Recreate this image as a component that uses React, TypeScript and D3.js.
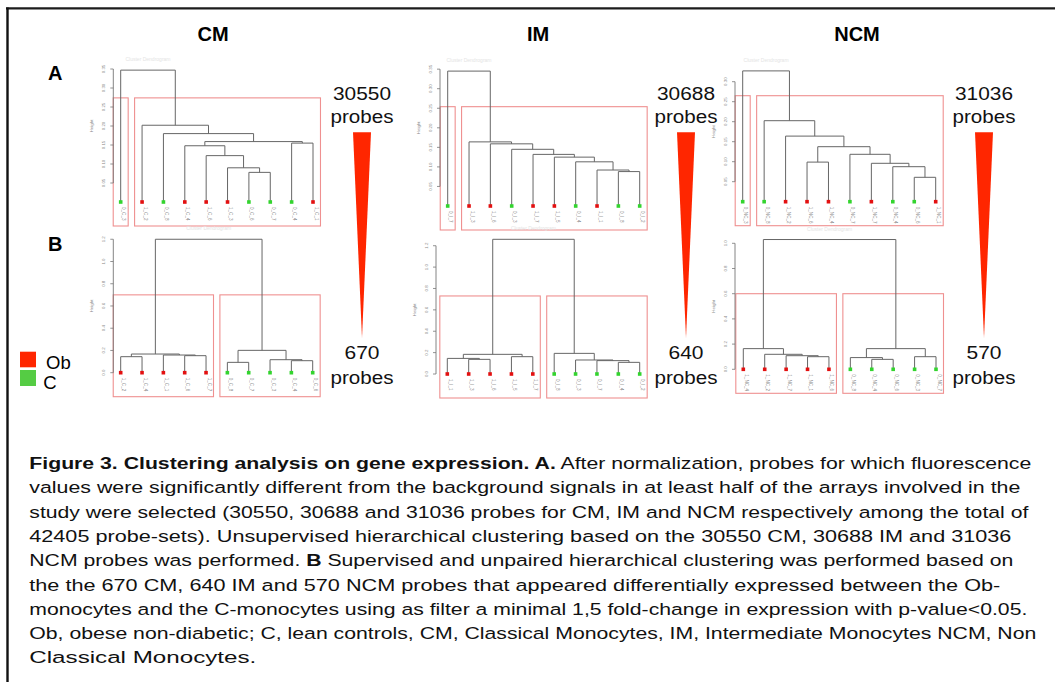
import React from "react";
import * as d3 from "d3";

// group per leaf, in display order: 1 = Ob (red), 0 = C (green)
const CM_A_GROUPS = [0, 1, 0, 1, 1, 1, 0, 0, 0, 1];
const CM_A_LABELS = ["0_C_3", "1_C_2", "0_C_8", "1_C_4", "1_C_6", "1_C_3", "0_C_6", "0_C_7", "0_C_4", "1_C_1"];
// hclust-style merge rows: negative = leaf (1-based display position), positive = earlier row
const CM_A_MERGE = [[-7, -8], [-6, 1], [-5, 2], [-4, 3], [-9, -10], [4, 5], [-3, 6], [-2, 7], [-1, 8]];
const CM_A_HEIGHT = [0.078, 0.09, 0.122, 0.148, 0.155, 0.159, 0.18, 0.202, 0.347];

const IM_A_GROUPS = [0, 1, 1, 0, 1, 1, 0, 1, 0, 0];
const IM_A_LABELS = ["0_I_7", "1_I_3", "1_I_6", "0_I_3", "1_I_7", "1_I_5", "0_I_4", "1_I_1", "0_I_8", "0_I_2"];
const IM_A_MERGE = [[-9, -10], [-8, 1], [-7, 2], [-6, 3], [-5, 4], [-4, 5], [-3, 6], [-2, 7], [-1, 8]];
const IM_A_HEIGHT = [0.088, 0.092, 0.113, 0.125, 0.132, 0.145, 0.159, 0.164, 0.345];

const NCM_A_GROUPS = [0, 0, 1, 1, 1, 0, 1, 0, 0, 1];
const NCM_A_LABELS = ["0_NC_3", "0_NC_8", "1_NC_2", "1_NC_6", "1_NC_4", "0_NC_7", "1_NC_7", "0_NC_4", "0_NC_6", "1_NC_1"];
const NCM_A_MERGE = [[-9, -10], [-8, 1], [-7, 2], [-6, 3], [-4, -5], [5, 4], [-3, 6], [-2, 7], [-1, 8]];
const NCM_A_HEIGHT = [0.061, 0.0875, 0.096, 0.1185, 0.099, 0.1375, 0.164, 0.2025, 0.327];

const CM_B_GROUPS = [1, 1, 1, 1, 1, 0, 0, 0, 0, 0];
const CM_B_LABELS = ["1_C_2", "1_C_4", "1_C_1", "1_C_6", "1_C_7", "0_C_8", "0_C_7", "0_C_3", "0_C_4", "0_C_6"];
const CM_B_MERGE = [[-6, -7], [-9, -10], [-8, 2], [-1, -2], [-4, -5], [-3, 5], [4, 6], [1, 3], [7, 8]];
const CM_B_HEIGHT = [0.093, 0.108, 0.117, 0.144, 0.153, 0.159, 0.168, 0.201, 1.2];

const IM_B_GROUPS = [1, 1, 1, 1, 1, 0, 0, 0, 0, 0];
const IM_B_LABELS = ["1_I_1", "1_I_3", "1_I_6", "1_I_5", "1_I_7", "0_I_8", "0_I_3", "0_I_7", "0_I_4", "0_I_2"];
const IM_B_MERGE = [[-9, -10], [-8, 1], [-7, 2], [-2, -3], [-1, 4], [-4, -5], [5, 6], [-6, 3], [7, 8]];
const IM_B_HEIGHT = [0.109, 0.125, 0.131, 0.137, 0.146, 0.162, 0.184, 0.193, 1.26];

const NCM_B_GROUPS = [1, 1, 1, 1, 1, 0, 0, 0, 0, 0];
const NCM_B_LABELS = ["1_NC_4", "1_NC_2", "1_NC_7", "1_NC_1", "1_NC_6", "0_NC_8", "0_NC_4", "0_NC_6", "0_NC_3", "0_NC_7"];
const NCM_B_MERGE = [[-7, -8], [-6, 1], [-4, -5], [-9, -10], [-3, 3], [-2, 5], [-1, 6], [2, 4], [7, 8]];
const NCM_B_HEIGHT = [0.079, 0.093, 0.1, 0.1, 0.108, 0.119, 0.164, 0.164, 1.03];

const TICKS_A = [0.05, 0.1, 0.15, 0.2, 0.25, 0.3, 0.35];
const TICKS_A_NCM = [0.05, 0.1, 0.15, 0.2, 0.25, 0.3];
const TICKS_B = [0, 0.2, 0.4, 0.6, 0.8, 1.0, 1.2];
const TICKS_B_NCM = [0, 0.2, 0.4, 0.6, 0.8, 1.0];

// rect.hclust boxes: leaf ranges and top height
const BOXES_A = [[0, 0], [1, 9]];
const BOXES_B = [[0, 4], [5, 9]];
const BOX_TOP = [0.274, 0.254, 0.265, 0.7, 0.73, 0.6];

const TITLES = ["CM", "IM", "NCM"];
const PROBES_ALL = ["30550", "30688", "31036"];
const PROBES_DE = ["670", "640", "570"];

const CAPTION: [string, boolean][][] = [
  [["Figure 3. Clustering analysis on gene expression. A.", true], [" After normalization, probes for which fluorescence", false]],
  [["values were significantly different from the background signals in at least half of the arrays involved in the", false]],
  [["study were selected (30550, 30688 and 31036 probes for CM, IM and NCM respectively among the total of", false]],
  [["42405 probe-sets). Unsupervised hierarchical clustering based on the 30550 CM, 30688 IM and 31036", false]],
  [["NCM probes was performed. ", false], ["B", true], [" Supervised and unpaired hierarchical clustering was performed based on", false]],
  [["the the 670 CM, 640 IM and 570 NCM probes that appeared differentially expressed between the Ob-", false]],
  [["monocytes and the C-monocytes using as filter a minimal 1,5 fold-change in expression with p-value<0.05.", false]],
  [["Ob, obese non-diabetic; C, lean controls, CM, Classical Monocytes, IM, Intermediate Monocytes NCM, Non", false]],
  [["Classical Monocytes.", false]],
];
const CAPTION_WIDTHS = [1002, 991, 999, 982, 984, 971, 998, 1007, 227];

const PANELS = [
  { groups: CM_A_GROUPS, labels: CM_A_LABELS, merge: CM_A_MERGE, height: CM_A_HEIGHT, ticks: TICKS_A, fmt: ".2f", boxes: BOXES_A, boxTop: BOX_TOP[0] },
  { groups: IM_A_GROUPS, labels: IM_A_LABELS, merge: IM_A_MERGE, height: IM_A_HEIGHT, ticks: TICKS_A, fmt: ".2f", boxes: BOXES_A, boxTop: BOX_TOP[1] },
  { groups: NCM_A_GROUPS, labels: NCM_A_LABELS, merge: NCM_A_MERGE, height: NCM_A_HEIGHT, ticks: TICKS_A_NCM, fmt: ".2f", boxes: BOXES_A, boxTop: BOX_TOP[2] },
  { groups: CM_B_GROUPS, labels: CM_B_LABELS, merge: CM_B_MERGE, height: CM_B_HEIGHT, ticks: TICKS_B, fmt: ".1f", boxes: BOXES_B, boxTop: BOX_TOP[3] },
  { groups: IM_B_GROUPS, labels: IM_B_LABELS, merge: IM_B_MERGE, height: IM_B_HEIGHT, ticks: TICKS_B, fmt: ".1f", boxes: BOXES_B, boxTop: BOX_TOP[4] },
  { groups: NCM_B_GROUPS, labels: NCM_B_LABELS, merge: NCM_B_MERGE, height: NCM_B_HEIGHT, ticks: TICKS_B_NCM, fmt: ".1f", boxes: BOXES_B, boxTop: BOX_TOP[5] },
];

// pixel layout of each plot: first/last leaf x, axis x, leaf baseline y, px per height unit
const LAYOUT = [
  { x0: 120.7, x1: 313, axisX: 113.3, y0: 202, ppu: 380 },
  { x0: 447.7, x1: 639.7, axisX: 440, y0: 206, ppu: 391 },
  { x0: 742.7, x1: 935.7, axisX: 735, y0: 201.7, ppu: 400 },
  { x0: 120.7, x1: 312.7, axisX: 113.3, y0: 372.7, ppu: 111.2 },
  { x0: 447.3, x1: 639.7, axisX: 436, y0: 374, ppu: 106.9 },
  { x0: 743.3, x1: 936, axisX: 735, y0: 369.3, ppu: 126 },
];
const COL_X = [362, 686, 984];
const TITLE_X = [213, 538, 857];

const FONT = "'Liberation Sans', Arial, Helvetica, sans-serif";
const RED = "#e31010";
const GREEN = "#33d42e";

function Dendrogram({ p, lay }: { p: (typeof PANELS)[number]; lay: (typeof LAYOUT)[number] }) {
  const n = p.groups.length;
  const x = d3.scalePoint<number>().domain(d3.range(n)).range([lay.x0, lay.x1]);
  const top = d3.max(p.ticks)!;
  const y = d3.scaleLinear().domain([0, top]).range([lay.y0, lay.y0 - lay.ppu * top]);
  const fmt = d3.format(p.fmt);
  const nodes: { x: number; h: number }[] = [];
  const child = (c: number) => (c < 0 ? { x: x(-c - 1)!, h: 0 } : nodes[c - 1]);
  const paths: string[] = [];
  p.merge.forEach(([a, b], i) => {
    const A = child(a);
    const B = child(b);
    const h = p.height[i];
    nodes.push({ x: (A.x + B.x) / 2, h });
    const path = d3.path();
    path.moveTo(A.x, y(A.h));
    path.lineTo(A.x, y(h));
    path.lineTo(B.x, y(h));
    path.lineTo(B.x, y(B.h));
    paths.push(path.toString());
  });
  const pad = x.step() * 0.35;
  const tickLo = d3.min(p.ticks)!;
  const rootX = nodes[nodes.length - 1].x;
  return (
    <g>
      <text x={rootX} y={y(p.height[p.height.length - 1]) - 9} fontSize={5} fill="#e4e4e4" textAnchor="middle" fontFamily={FONT}>
        Cluster Dendrogram
      </text>
      {p.boxes.map(([f, l], i) => (
        <rect key={i} x={x(f)! - pad} y={y(p.boxTop)} width={x(l)! - x(f)! + pad * 2} height={lay.y0 + 24 - y(p.boxTop)}
          fill="none" stroke="#ef9090" strokeWidth={1.1} />
      ))}
      <line x1={lay.axisX} x2={lay.axisX} y1={y(tickLo)} y2={y(top)} stroke="#777" strokeWidth={0.9} />
      {p.ticks.map((t) => (
        <g key={t}>
          <line x1={lay.axisX - 3} x2={lay.axisX} y1={y(t)} y2={y(t)} stroke="#777" strokeWidth={0.8} />
          <text transform={`translate(${lay.axisX - 8},${y(t)}) rotate(-90)`} fontSize={4.4} fill="#888" textAnchor="middle" fontFamily={FONT}>
            {fmt(t)}
          </text>
        </g>
      ))}
      <text transform={`translate(${lay.axisX - 20},${(y(tickLo) + y(top)) / 2}) rotate(-90)`} fontSize={4.4} fill="#888" textAnchor="middle" fontFamily={FONT}>
        Height
      </text>
      {paths.map((d, i) => (
        <path key={i} d={d} fill="none" stroke="#666" strokeWidth={1} />
      ))}
      {p.groups.map((g, i) => (
        <g key={i}>
          <rect x={x(i)! - 1.8} y={lay.y0 - 1.8} width={3.6} height={3.6} fill={g ? RED : GREEN} />
          <text transform={`translate(${x(i)! + 1.5},${lay.y0 + 5}) rotate(90)`} fontSize={4.6} fill="#8a8a8a" fontFamily={FONT}>
            {p.labels[i]}
          </text>
        </g>
      ))}
    </g>
  );
}

export default function App() {
  return (
    <div style={{ position: "absolute", left: 0, top: 0, width: 1055, height: 682, background: "#fff" }}>
      <svg width={1055} height={682} style={{ display: "block" }}>
        <rect width={1055} height={682} fill="#fff" />
        <line x1={6} x2={1055} y1={8.3} y2={8.3} stroke="#1c1c1c" strokeWidth={2.2} />
        <line x1={7.5} x2={7.5} y1={7.5} y2={682} stroke="#111" strokeWidth={2.4} />

        {TITLES.map((t, i) => (
          <text key={t} x={TITLE_X[i]} y={41} textAnchor="middle" fontSize={20} fontWeight="bold" fontFamily={FONT}>{t}</text>
        ))}
        <text x={48} y={80} fontSize={20} fontWeight="bold" fontFamily={FONT}>A</text>
        <text x={48} y={251} fontSize={20} fontWeight="bold" fontFamily={FONT}>B</text>

        {PANELS.map((p, i) => (
          <Dendrogram key={i} p={p} lay={LAYOUT[i]} />
        ))}

        {COL_X.map((cx, i) => (
          <g key={i} fontFamily={FONT} fontSize={18} textAnchor="middle" fill="#111">
            <text x={cx} y={100} textLength={58} lengthAdjust="spacingAndGlyphs">{PROBES_ALL[i]}</text>
            <text x={cx} y={123.3} textLength={63} lengthAdjust="spacingAndGlyphs">probes</text>
            <path d={`M${cx - 9},132.3 L${cx + 9},132.3 L${cx},338 Z`} fill="#ff2600" />
            <text x={cx} y={358.5} textLength={35} lengthAdjust="spacingAndGlyphs">{PROBES_DE[i]}</text>
            <text x={cx} y={383.5} textLength={63} lengthAdjust="spacingAndGlyphs">probes</text>
          </g>
        ))}

        <rect x={20} y={351.7} width={16} height={15.6} fill="#ff2600" />
        <rect x={20} y={370} width={16} height={16} fill="#55cc44" />
        <text x={46} y={369} fontSize={18.5} fontFamily={FONT}>Ob</text>
        <text x={43.3} y={389} fontSize={18.5} fontFamily={FONT}>C</text>

        {CAPTION.map((line, i) => (
          <text key={i} x={29.3} y={469 + i * 24.3} fontSize={16.8} fontFamily={FONT} fill="#111"
            textLength={CAPTION_WIDTHS[i]} lengthAdjust="spacingAndGlyphs" style={{ whiteSpace: "pre" }}>
            {line.map(([s, b], j) => (
              <tspan key={j} fontWeight={b ? "bold" : "normal"}>{s}</tspan>
            ))}
          </text>
        ))}
      </svg>
    </div>
  );
}
